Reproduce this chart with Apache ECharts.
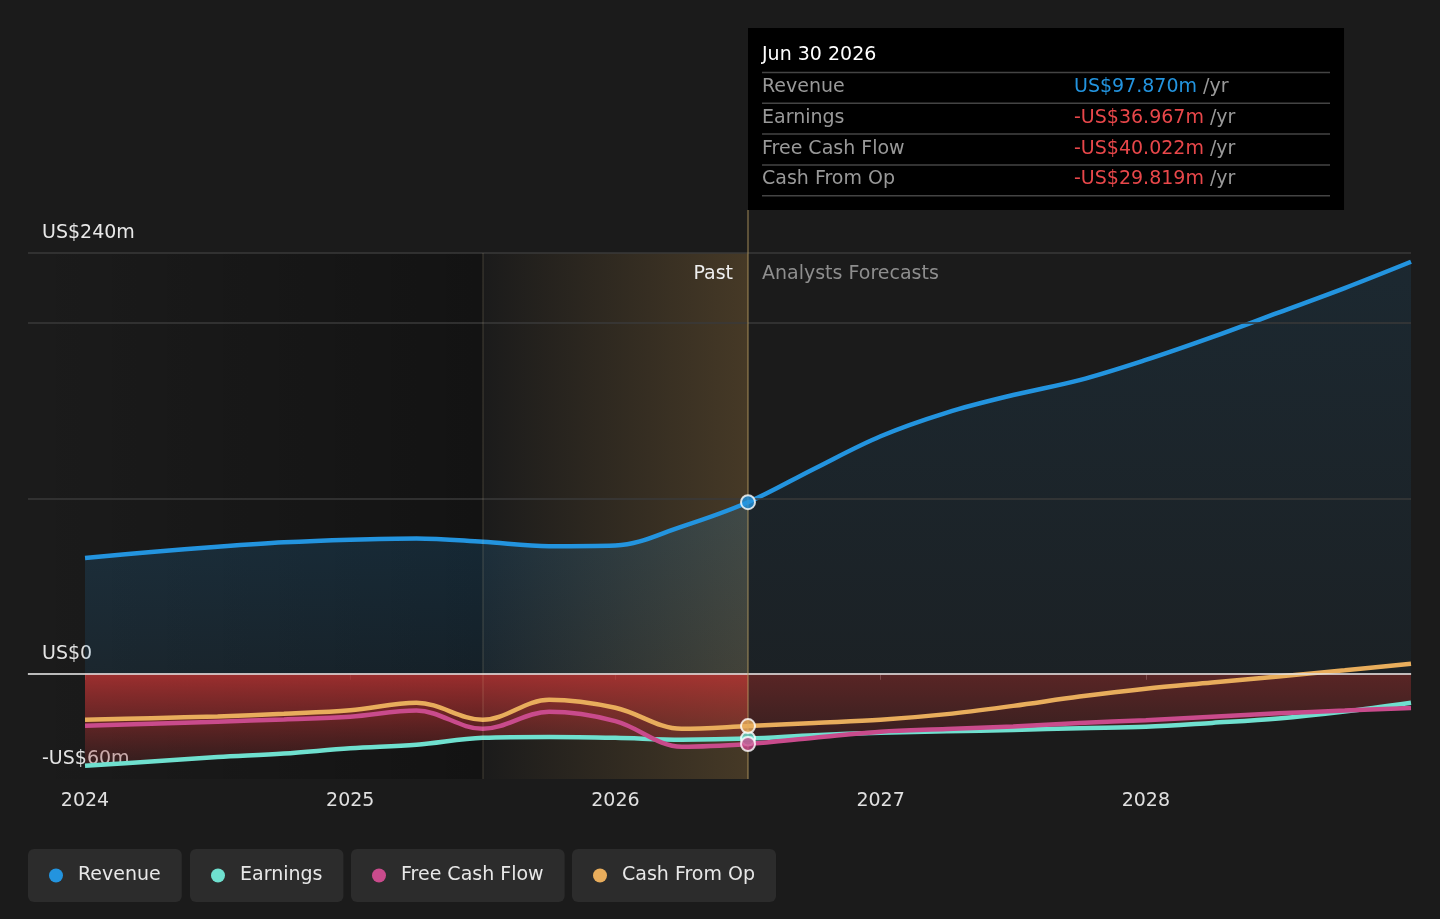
<!DOCTYPE html>
<html><head><meta charset="utf-8">
<script src="https://cdn.jsdelivr.net/npm/echarts@6/dist/echarts.min.js"></script>
<style>html,body{margin:0;padding:0;background:#1b1b1b;}#c{width:1440px;height:919px;}</style>
</head><body><div id="c"></div>
<script>
// ---- data (US$ m, annualised) ----
const periods = [2024.0, 2024.25, 2024.5, 2024.75, 2025.0, 2025.25, 2025.5, 2025.75, 2026.0, 2026.25, 2026.5,
                 2026.75, 2027.0, 2027.25, 2027.5, 2027.75, 2028.0, 2028.25, 2028.5, 2028.75, 2029.0];
const revenue = [66, 69.5, 72.5, 75, 76.5, 77.2, 75.3, 72.8, 73.2, 84, 97.87,
                 117, 135.5, 149, 159, 167.5, 179, 192, 206, 220, 235];
const earnings = [-52.5, -50, -47.5, -45.5, -42.5, -40.5, -36.5, -36, -36.5, -37.6, -36.967,
                  -35, -33.6, -32.8, -32, -31, -30.2, -28, -25.5, -21.5, -16.5];
const freeCashFlow = [-29.6, -28.5, -27.3, -26, -24.5, -21, -31.4, -21.7, -27, -41.6, -40.022,
                      -36.5, -33, -31.5, -30, -28, -26.5, -24.5, -22.5, -21, -19.5];
const cashFromOp = [-26.2, -25.3, -24.3, -22.8, -20.8, -16.5, -26.2, -14.8, -19.4, -31.4, -29.819,
                    -28, -26.2, -23, -18.3, -13, -8.5, -5, -1.5, 2, 5.7];
const xTickLabels = [2024, 2025, 2026, 2027, 2028];
const yTickLabels = [-60, 0, 240];
const yGridValues = [100, 200, 240];
const highlightStart = 2025.5;
const pastEnd = 2026.5;
const tooltipDate = 'Jun 30 2026';
const seriesNames = ['Revenue', 'Earnings', 'Free Cash Flow', 'Cash From Op'];

// ---- styling ----
const xMin = 2023.785, xMax = 2029, yMin = -60, yMax = 240;
const colors = ['#2394df', '#6fe0cf', '#c94b8c', '#e8ad5c'];
const FONT = 'DejaVu Sans';
const FS = 19;
const pair = arr => periods.map((p, i) => [p, arr[i]]);
const pastIdx = periods.indexOf(pastEnd);
const pastOnly = arr => periods.map((p, i) => [p, i <= pastIdx ? arr[i] : null]);
const futOnly = arr => periods.map((p, i) => [p, i >= pastIdx ? arr[i] : null]);
const fmtAxis = v => v === 0 ? 'US$0' : (v < 0 ? '-US$' + Math.abs(v) + 'm' : 'US$' + v + 'm');
const fmtVal = v => (v < 0 ? '-US$' : 'US$') + Math.abs(v).toFixed(3) + 'm';
const vgrad = stops => new echarts.graphic.LinearGradient(0, 0, 0, 1,
  stops.map(s => ({ offset: s[0], color: s[1] })));

const chart = echarts.init(document.getElementById('c'));

function lineSeries(name, arr, color) {
  return {
    name, type: 'line', data: pair(arr), smooth: 0.35, showSymbol: false, symbol: 'circle',
    lineStyle: { width: 4.5, color }, itemStyle: { color }, z: 3, silent: true
  };
}
function areaSeries(id, data, grad) {
  return { id, type: 'line', data, smooth: 0.35, showSymbol: false, z: 2, silent: true,
           lineStyle: { width: 0, opacity: 0 }, areaStyle: { color: grad, opacity: 1 } };
}
function marker(name, arr, color) {
  return {
    name, type: 'scatter', data: [[pastEnd, arr[pastIdx]]], symbol: 'circle', symbolSize: 14,
    itemStyle: { color, borderColor: '#fff', borderWidth: 2 }, z: 6, silent: true
  };
}

const legendLefts = [28, 190, 351, 572];
const legends = seriesNames.map((n, i) => ({
  data: [n], left: legendLefts[i], top: 849, orient: 'horizontal',
  backgroundColor: '#2c2c2c', borderRadius: 6, padding: [17, 21, 17, 21],
  icon: 'circle', itemWidth: 14, itemHeight: 14, selectedMode: false,
  textStyle: { color: '#e8e8e8', fontSize: FS, fontFamily: FONT, padding: [0, 0, 0, 10] }
}));

const option = {
  backgroundColor: '#1b1b1b',
  animation: false,
  legend: legends,
  grid: { left: 28, right: 29, top: 253, bottom: 140, containLabel: false },
  xAxis: {
    type: 'value', min: xMin, max: xMax,
    axisLine: { show: true, lineStyle: { color: '#4a4a4a', width: 1.5 } },
    axisTick: { show: true, customValues: xTickLabels, length: 6, lineStyle: { color: '#555' } },
    axisLabel: { customValues: xTickLabels, color: '#e0e0e0', fontSize: FS, fontFamily: FONT, margin: 13,
                 formatter: v => String(Math.round(v)) },
    splitLine: { show: false }
  },
  yAxis: {
    type: 'value', min: yMin, max: yMax,
    axisLine: { show: false }, axisTick: { show: false }, splitLine: { show: false },
    axisLabel: { customValues: yTickLabels, inside: true, margin: 14, verticalAlign: 'bottom',
                 padding: [0, 0, 10, 0], color: '#e8e8e8', fontSize: FS, fontFamily: FONT,
                 showMinLabel: true, showMaxLabel: true, formatter: fmtAxis }
  },
  series: [
    {
      type: 'line', data: [], z: 1, silent: true,
      markArea: { silent: true,
                  itemStyle: { color: new echarts.graphic.LinearGradient(0, 0, 1, 0, [
                    { offset: 0, color: 'rgba(0,0,0,0)' }, { offset: 1, color: 'rgba(0,0,0,0.3)' }]) },
                  data: [[{ xAxis: xMin }, { xAxis: highlightStart }]] },
      markLine: { silent: true, symbol: 'none', label: { show: false },
                  lineStyle: { color: '#3a3a3a', width: 1.5, type: 'solid' },
                  data: yGridValues.map(v => ({ yAxis: v })) }
    },
    areaSeries('revPast', pastOnly(revenue), vgrad([[0, 'rgba(35,148,223,0.18)'], [1, 'rgba(35,148,223,0.1)']])),
    areaSeries('revFut', futOnly(revenue), vgrad([[0, 'rgba(35,148,223,0.11)'], [1, 'rgba(35,148,223,0.05)']])),
    areaSeries('earnPast', pastOnly(earnings), 'rgba(185,52,52,0.7)'),
    areaSeries('earnFut', futOnly(earnings), 'rgba(200,55,55,0.3)'),
    { type: 'line', data: [], z: 3, silent: true,
      markLine: { silent: true, symbol: 'none', label: { show: false },
                  lineStyle: { color: '#e6e6e6', width: 1.5, type: 'solid' }, data: [{ yAxis: 0 }] } },
    lineSeries('Revenue', revenue, colors[0]),
    lineSeries('Earnings', earnings, colors[1]),
    lineSeries('Free Cash Flow', freeCashFlow, colors[2]),
    lineSeries('Cash From Op', cashFromOp, colors[3]),
    { type: 'line', data: [], z: 5, silent: true,
      markArea: { silent: true,
        itemStyle: { color: new echarts.graphic.LinearGradient(0, 0, 1, 0, [
          { offset: 0, color: 'rgba(230,170,80,0.0)' }, { offset: 1, color: 'rgba(230,170,80,0.21)' }]) },
        data: [[{ xAxis: highlightStart }, { xAxis: pastEnd }]] },
      markLine: { silent: true, symbol: 'none', label: { show: false },
        data: [
          { xAxis: highlightStart, lineStyle: { color: 'rgba(255,230,180,0.12)', width: 1.5, type: 'solid' } },
          { xAxis: pastEnd, lineStyle: { color: 'rgba(190,160,100,0.55)', width: 1.5, type: 'solid' } }
        ] } },
    marker('Revenue', revenue, colors[0]),
    marker('Earnings', earnings, colors[1]),
    marker('Free Cash Flow', freeCashFlow, colors[2]),
    marker('Cash From Op', cashFromOp, colors[3])
  ]
};
chart.setOption(option);

// global (pixel) gradients for the negative areas
const y0 = chart.convertToPixel({ yAxisIndex: 0 }, 0);
const y55 = chart.convertToPixel({ yAxisIndex: 0 }, -55);
const ggrad = stops => new echarts.graphic.LinearGradient(0, y0, 0, y55,
  stops.map(s => ({ offset: s[0], color: s[1] })), true);

// ---- static tooltip & labels positioned from the axis ----
const pastTop = chart.convertToPixel({ xAxisIndex: 0, yAxisIndex: 0 }, [pastEnd, yMax]);
const px = pastTop[0], py = pastTop[1];
const boxTop = 28, boxH = 182, boxW = 596;
const tipVals = [revenue[pastIdx], earnings[pastIdx], freeCashFlow[pastIdx], cashFromOp[pastIdx]];
const F = FS + 'px "' + FONT + '"';
const g = [
  { type: 'rect', shape: { x: px, y: boxTop, width: boxW, height: boxH }, style: { fill: '#000' }, z: 10 },
  { type: 'line', shape: { x1: px, y1: boxTop + boxH, x2: px, y2: py },
    style: { stroke: 'rgba(190,160,100,0.55)', lineWidth: 1.5 }, z: 10 },
  { type: 'text', x: px + 14, y: 55, z: 11,
    style: { text: tooltipDate, fill: '#fff', font: F, verticalAlign: 'middle' } },
  { type: 'text', x: px - 15, y: py + 21, z: 11,
    style: { text: 'Past', fill: '#eee', font: F, align: 'right', verticalAlign: 'middle' } },
  { type: 'text', x: px + 14, y: py + 21, z: 11,
    style: { text: 'Analysts Forecasts', fill: '#8e8e8e', font: F, verticalAlign: 'middle' } }
];
for (let i = 0; i < 5; i++) {
  const y = 72.5 + i * 30.8;
  g.push({ type: 'line', shape: { x1: px + 14, y1: y, x2: px + boxW - 14, y2: y },
           style: { stroke: '#444', lineWidth: 1.5 }, z: 11 });
}
seriesNames.forEach((n, i) => {
  const y = 87 + i * 30.8;
  const v = tipVals[i];
  g.push({ type: 'text', x: px + 14, y, z: 11,
           style: { text: n, fill: '#999', font: F, verticalAlign: 'middle' } });
  g.push({ type: 'text', x: px + 326, y, z: 11,
           style: { text: '{v|' + fmtVal(v) + '}{u| /yr}', verticalAlign: 'middle',
                    rich: { v: { fill: v < 0 ? '#e8474a' : '#2394df', fontSize: FS, fontFamily: FONT },
                            u: { fill: '#999', fontSize: FS, fontFamily: FONT } } } });
});
chart.setOption({
  graphic: g,
  series: [
    { id: 'earnPast', areaStyle: { opacity: 1, color: ggrad([[0, 'rgba(190,52,52,0.8)'], [0.45, 'rgba(170,48,48,0.55)'], [1, 'rgba(150,45,45,0.16)']]) } },
    { id: 'earnFut', areaStyle: { opacity: 1, color: ggrad([[0, 'rgba(200,55,55,0.36)'], [0.6, 'rgba(200,55,55,0.18)'], [1, 'rgba(200,55,55,0.12)']]) } }
  ]
});
</script>
</body></html>
